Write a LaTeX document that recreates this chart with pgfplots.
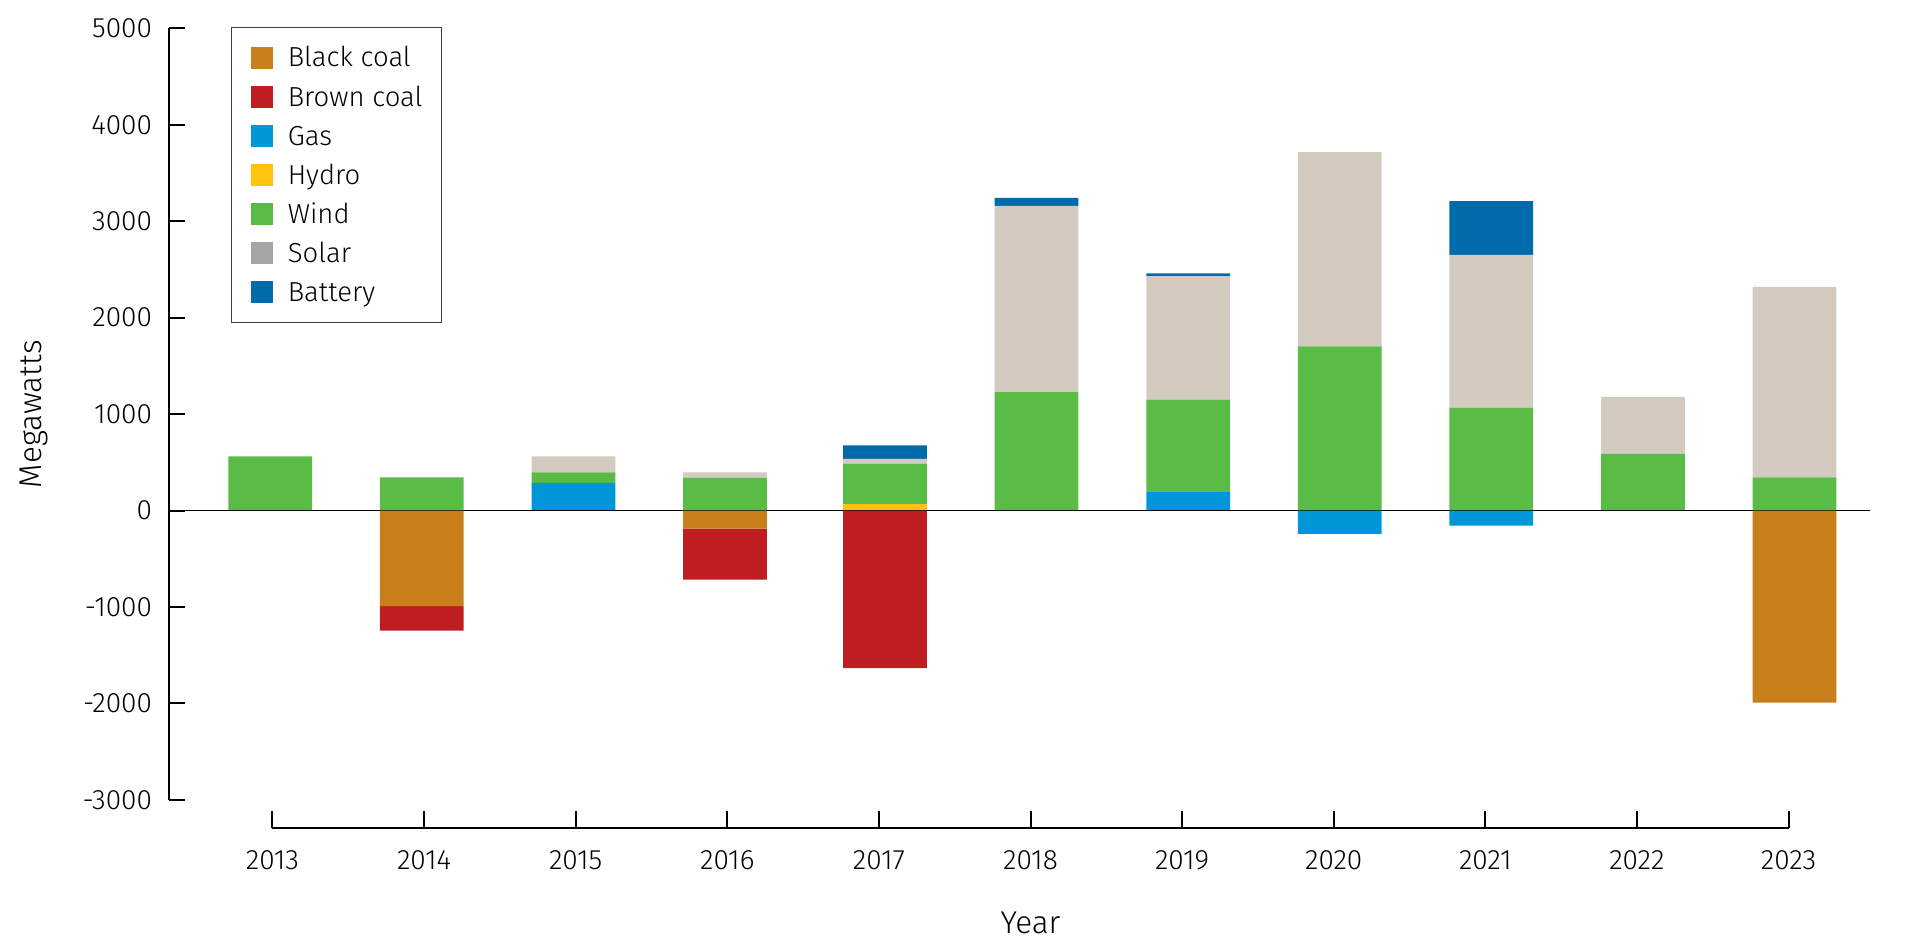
\documentclass[border=0pt]{standalone}
\usepackage{fontspec}
\setmainfont{Fira Sans}[UprightFont={* Light}, Numbers=Proportional]
\usepackage{pgfplots}
\pgfplotsset{compat=1.18}
\usepackage{pgfplotstable}
\definecolor{blackcoal}{HTML}{C97E1C}
\definecolor{browncoal}{HTML}{BE1E22}
\definecolor{gas}{HTML}{0096D7}
\definecolor{hydro}{HTML}{FFC20E}
\definecolor{wind}{HTML}{5BBB47}
\definecolor{solar}{HTML}{D3CBBF}
\definecolor{solarleg}{HTML}{A5A5A5}
\definecolor{battery}{HTML}{006AAA}

\pgfplotstableread{
x      gas hydro wind solar battery
-0.015 0   0     563  0     0
0.985  0   0     345  0     0
1.985  286 0     111  166   0
2.985  0   0     342  55    0
4.04   0   65    418  52    142
5.04   0   0     1229 1929  85
6.04   199 0     951  1277  33
7.04   0   0     1701 2015  0
8.04   0   0     1065 1587  557
9.04   0   0     587  591   0
10.04  0   0     345  1975  0
}\postab

\pgfplotstableread{
x      black brown gas
-0.015 0     0     0
0.985  -990  -254  0
1.985  0     0     0
2.985  -187  -528  0
4.04   0     -1635 0
5.04   0     0     0
6.04   0     0     0
7.04   0     0     -241
8.04   0     0     -156
9.04   0     0     0
10.04  -1991 0     0
}\negtab

\pgfplotsset{
  every outer x axis line/.append style={-},
  every outer y axis line/.append style={-},
  every inner x axis line/.append style={-},
  every inner y axis line/.append style={-},
  common/.style={scale only axis, width=680.4pt, height=308.64pt,
    xmin=-0.683, xmax=10.538, ymin=-3000, ymax=5000,
    ybar stacked, bar width=33.5pt, at={(0pt,0pt)}, anchor=south west},
}

\begin{document}
\begin{tikzpicture}
\path[use as bounding box] (-67.6pt,-60.4pt) rectangle (696pt,319.96pt);

\begin{axis}[common,
  axis x line=none, axis y line=left, xtick=\empty,
  ytick={-3000,-2000,-1000,0,1000,2000,3000,4000,5000},
  yticklabels={-3000,-2000,-1000,0,1000,2000,3000,4000,5000},
  tick align=inside, major tick length=6.4pt,
  tick style={black, line width=0.8pt},
  axis line style={-, line width=0.8pt},
  yticklabel style={font=\fontsize{11.2}{13}\selectfont, inner sep=0pt, xshift=-6.6pt},
  ylabel={Megawatts},
  ylabel style={at={(axis description cs:-0.0795,0.5)}, anchor=center, inner sep=0pt, font=\fontsize{12.6}{14}\selectfont},
]
\addplot[fill=gas, draw=none] table[x=x, y=gas]{\postab};
\addplot[fill=hydro, draw=none] table[x=x, y=hydro]{\postab};
\addplot[fill=wind, draw=none] table[x=x, y=wind]{\postab};
\addplot[fill=solar, draw=none] table[x=x, y=solar]{\postab};
\addplot[fill=battery, draw=none] table[x=x, y=battery]{\postab};
\end{axis}

\begin{axis}[common, hide axis]
\addplot[fill=blackcoal, draw=none] table[x=x, y=black]{\negtab};
\addplot[fill=browncoal, draw=none] table[x=x, y=brown]{\negtab};
\addplot[fill=gas, draw=none] table[x=x, y=gas]{\negtab};
\draw[line width=0.7pt] (axis cs:-0.683,0) -- (axis cs:10.538,0);
\end{axis}

\begin{axis}[scale only axis, at={(41.4pt,-11.32pt)}, anchor=south west,
  width=606.4pt, height=10pt, xmin=0, xmax=10, ymin=0, ymax=1,
  axis x line=bottom, axis y line=none,
  xtick={0,1,2,3,4,5,6,7,8,9,10},
  xticklabels={2013,2014,2015,2016,2017,2018,2019,2020,2021,2022,2023},
  tick align=inside, major tick length=6.8pt,
  tick style={black, line width=0.8pt},
  axis line style={-, line width=0.8pt},
  xticklabel style={font=\fontsize{11.2}{13}\selectfont, inner sep=0pt, anchor=north, yshift=-8.7pt},
  xlabel={Year},
  xlabel style={at={(axis description cs:0.5,0)}, anchor=north, inner sep=0pt, yshift=-33.4pt, font=\fontsize{12.6}{14}\selectfont},
  legend image code/.code={\fill[#1] (0pt,-4.4pt) rectangle (8.8pt,4.4pt);},
  legend cell align=left,
  legend style={at={(axis description cs:0,1)}, anchor=north west,
    xshift=-16.48pt, yshift=310.6pt,
    draw=black!75, line width=0.4pt,
    inner xsep=7.8pt, inner ysep=7.8pt, row sep=6.84pt, column sep=5.8pt,
    font=\fontsize{11}{12}\selectfont,
    nodes={inner sep=0pt, text height=7.4pt, text depth=0pt},
    cells={anchor=west}},
]
\addlegendimage{fill=blackcoal, draw=none}
\addlegendentry{Black coal}
\addlegendimage{fill=browncoal, draw=none}
\addlegendentry{Brown coal}
\addlegendimage{fill=gas, draw=none}
\addlegendentry{Gas}
\addlegendimage{fill=hydro, draw=none}
\addlegendentry{Hydro}
\addlegendimage{fill=wind, draw=none}
\addlegendentry{Wind}
\addlegendimage{fill=solarleg, draw=none}
\addlegendentry{Solar}
\addlegendimage{fill=battery, draw=none}
\addlegendentry{Battery}
\end{axis}
\end{tikzpicture}
\end{document}
